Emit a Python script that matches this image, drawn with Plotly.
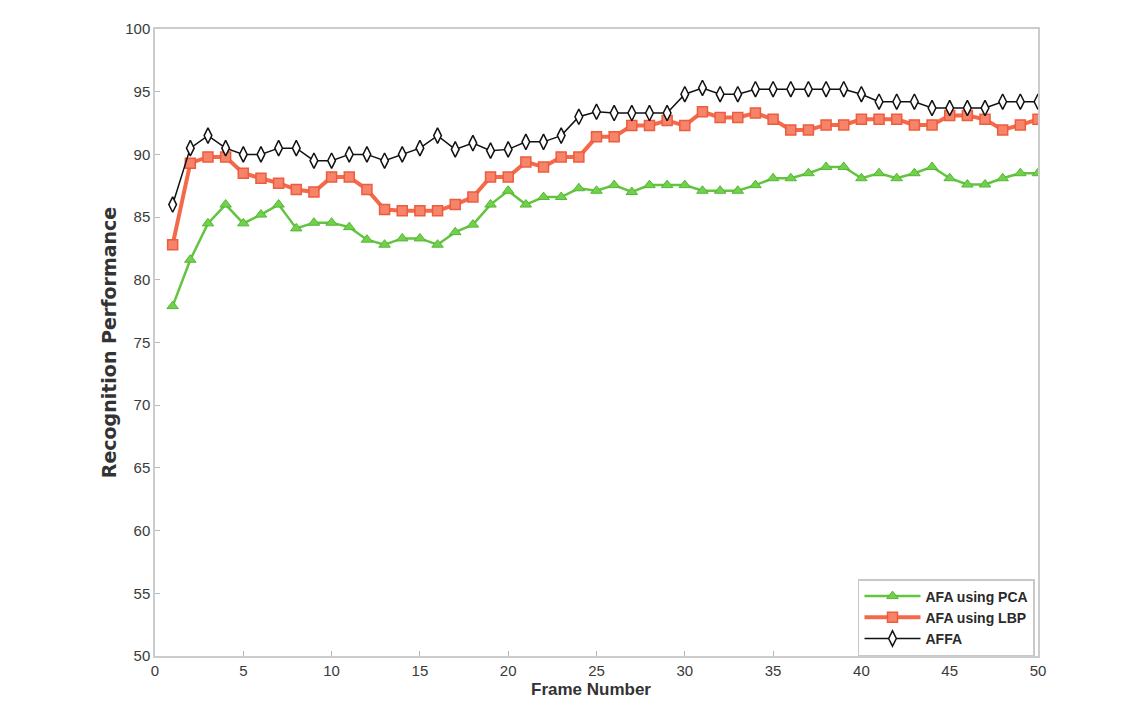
import plotly.graph_objects as go

frames = list(range(1, 51))

pca = [77.9, 81.6, 84.5, 86.0, 84.5, 85.2, 86.0, 84.1, 84.55, 84.55,
       84.2, 83.2, 82.8, 83.3, 83.3, 82.8, 83.8, 84.4, 86.0, 87.1,
       86.0, 86.6, 86.6, 87.3, 87.1, 87.55, 87.0, 87.55, 87.55, 87.55,
       87.1, 87.1, 87.1, 87.55, 88.1, 88.1, 88.5, 89.0, 89.0, 88.1,
       88.5, 88.1, 88.5, 89.0, 88.1, 87.6, 87.6, 88.1, 88.5, 88.5]

lbp = [82.8, 89.3, 89.8, 89.8, 88.5, 88.1, 87.7, 87.2, 87.0, 88.2,
       88.2, 87.2, 85.6, 85.5, 85.5, 85.5, 86.0, 86.6, 88.2, 88.2,
       89.4, 89.0, 89.8, 89.8, 91.4, 91.4, 92.3, 92.3, 92.7, 92.3,
       93.4, 92.95, 92.95, 93.3, 92.8, 91.95, 91.95, 92.35, 92.35, 92.8,
       92.8, 92.8, 92.35, 92.35, 93.1, 93.1, 92.8, 91.95, 92.35, 92.8]

affa = [86.0, 90.5, 91.5, 90.5, 90.0, 90.0, 90.5, 90.5, 89.5, 89.5,
        90.0, 90.0, 89.5, 90.0, 90.5, 91.5, 90.4, 90.9, 90.3, 90.4,
        91.0, 91.0, 91.5, 93.0, 93.4, 93.3, 93.3, 93.3, 93.3, 94.8,
        95.3, 94.8, 94.8, 95.2, 95.2, 95.2, 95.2, 95.2, 95.2, 94.8,
        94.2, 94.2, 94.2, 93.7, 93.7, 93.7, 93.7, 94.2, 94.2, 94.2]

x_ticks = list(range(0, 51, 5))
y_ticks = list(range(50, 101, 5))

FONT = "Liberation Sans, Arial, sans-serif"

fig = go.Figure()
fig.add_trace(go.Scatter(
    x=frames, y=pca, name="AFA using PCA", mode="lines+markers",
    line=dict(color="#62c43f", width=2.5),
    marker=dict(symbol="triangle-up", size=10, color="#72d04c",
                line=dict(color="#52b832", width=1))))
fig.add_trace(go.Scatter(
    x=frames, y=lbp, name="AFA using LBP", mode="lines+markers",
    line=dict(color="#f4694a", width=4),
    marker=dict(symbol="square", size=10, color="#f5846a",
                line=dict(color="#ef5b3d", width=1.5))))
fig.add_trace(go.Scatter(
    x=frames, y=affa, name="AFFA", mode="lines+markers",
    line=dict(color="#111111", width=1.5),
    marker=dict(symbol="diamond-tall", size=11, color="white",
                line=dict(color="#111111", width=1.5))))

axis_common = dict(
    showgrid=False, zeroline=False, showline=True, mirror=True,
    linecolor="#cccccc", linewidth=1.5, ticks="inside", ticklen=5,
    tickcolor="#b8b8b8",
    tickfont=dict(family=FONT, size=15, color="#3a3a3a"),
)

fig.update_layout(
    width=1127, height=694,
    paper_bgcolor="white", plot_bgcolor="white",
    margin=dict(l=147, r=97, t=21, b=46),
    xaxis=dict(range=[0, 50], tickvals=x_ticks, ticklabelstandoff=0,
               **axis_common),
    yaxis=dict(range=[50, 100], tickvals=y_ticks,
               title=dict(text="<b>Recognition Performance</b>", standoff=4,
                          font=dict(family="DejaVu Sans, sans-serif", size=19, color="#333333")),
               **axis_common),
    legend=dict(x=0.9966, y=0.0, xanchor="right", yanchor="bottom",
                bgcolor="white", bordercolor="#c8c8c8", borderwidth=1.5,
                font=dict(family=FONT, size=14, color="#2a2a2a", weight="bold"),
                tracegroupgap=0, itemwidth=56),
    showlegend=True,
    annotations=[dict(
        text="<b>Frame Number</b>", xref="paper", yref="paper",
        x=0.5, y=0, xanchor="center", yanchor="top",
        xshift=-6, yshift=-22, showarrow=False,
        font=dict(family=FONT, size=17, color="#333333"))],
)

fig.write_html("out.html")
